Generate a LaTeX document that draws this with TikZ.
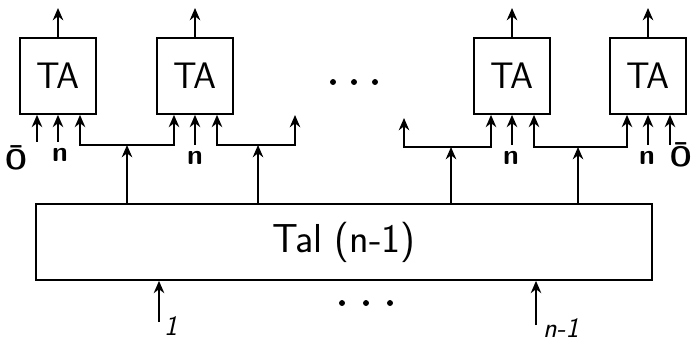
\documentclass[tikz,border=0pt]{standalone}
\usetikzlibrary{arrows.meta,calc}
\tikzset{
  tabox/.style={draw, line width=1pt, minimum width=1.52cm, minimum height=1.52cm, font=\sffamily\fontsize{21}{25}\selectfont},
  talbox/.style={draw, line width=1pt, minimum width=12.32cm, minimum height=1.52cm, font=\sffamily\fontsize{23}{27}\selectfont},
  sig/.style={line width=1pt, -{Stealth[length=7pt,width=6pt]}},
  bus/.style={line width=1pt, {Stealth[length=7pt,width=6pt]}-{Stealth[length=7pt,width=6pt]}},
  lbl/.style={font=\sffamily\bfseries\fontsize{16}{18}\selectfont, inner sep=1pt},
  idx/.style={font=\sffamily\itshape\fontsize{16}{18}\selectfont, inner sep=1pt}
}
\begin{document}
\begin{tikzpicture}[x=0.02cm, y=-0.02cm]
  \useasboundingbox (0,0) rectangle (695,343);
  % TA cells with outputs and input pins
  \foreach \n/\x in {1/58, 2/195, 3/512, 4/648} {
    \node[tabox] (ta\n) at (\x,76) {TA};
    \coordinate (out\n) at (\x,8);
    \draw[sig] (ta\n.north) -- (out\n);
    \coordinate (ta\n-a) at ($(ta\n.south)+(-21,0)$);
    \coordinate (ta\n-b) at (ta\n.south);
    \coordinate (ta\n-c) at ($(ta\n.south)+(22,0)$);
  }
  % big block
  \node[talbox] (tal) at (344,242) {Tal (n-1)};

  % constant inputs
  \draw[sig] ($(ta1-a)+(0,27)$) -- (ta1-a);
  \draw[sig] ($(ta1-b)+(0,27)$) -- (ta1-b);
  \draw[sig] ($(ta2-b)+(0,30)$) -- (ta2-b);
  \draw[sig] ($(ta3-b)+(0,30)$) -- (ta3-b);
  \draw[sig] ($(ta4-b)+(0,30)$) -- (ta4-b);
  \draw[sig] ($(ta4-c)+(0,30)$) -- (ta4-c);
  \node[lbl] (o1) at (16,158) {\=O};
  \node[lbl] (n1) at (60,155) {n};
  \node[lbl] (n2) at (195,158) {n};
  \node[lbl] (n3) at (511,158) {n};
  \node[lbl] (n4) at (647,158) {n};
  \node[lbl, anchor=east] (o4) at (694,155) {\=O};

  % buses from Tal
  \coordinate (j1) at (127,145);
  \coordinate (j2) at (258,145);
  \coordinate (j3) at (451,147);
  \coordinate (j4) at (578,147);
  \coordinate (end2) at (295,115);
  \coordinate (end3) at (404,118);
  \draw[bus] (ta1-c) |- (j1) -| (ta2-a);
  \draw[bus] (ta2-c) |- (j2) -| (end2);
  \draw[bus] (end3) |- (j3) -| (ta3-a);
  \draw[bus] (ta3-c) |- (j4) -| (ta4-a);
  \foreach \j in {j1,j2,j3,j4}
    \draw[sig] (tal.north -| \j) -- (\j);

  % inputs of Tal
  \coordinate (x1) at (159,322);
  \coordinate (xn) at (536,325);
  \draw[sig] (x1) -- (x1 |- tal.south);
  \draw[sig] (xn) -- (xn |- tal.south);
  \node[idx, anchor=west] (l1) at (162,326) {1};
  \node[idx, anchor=west] (ln) at (541,328) {n-1};

  % dots
  \foreach \x in {333,354,375} \fill (\x,82) circle (1.7pt);
  \foreach \x in {342,366,390} \fill (\x,303) circle (1.7pt);
\end{tikzpicture}
\end{document}
